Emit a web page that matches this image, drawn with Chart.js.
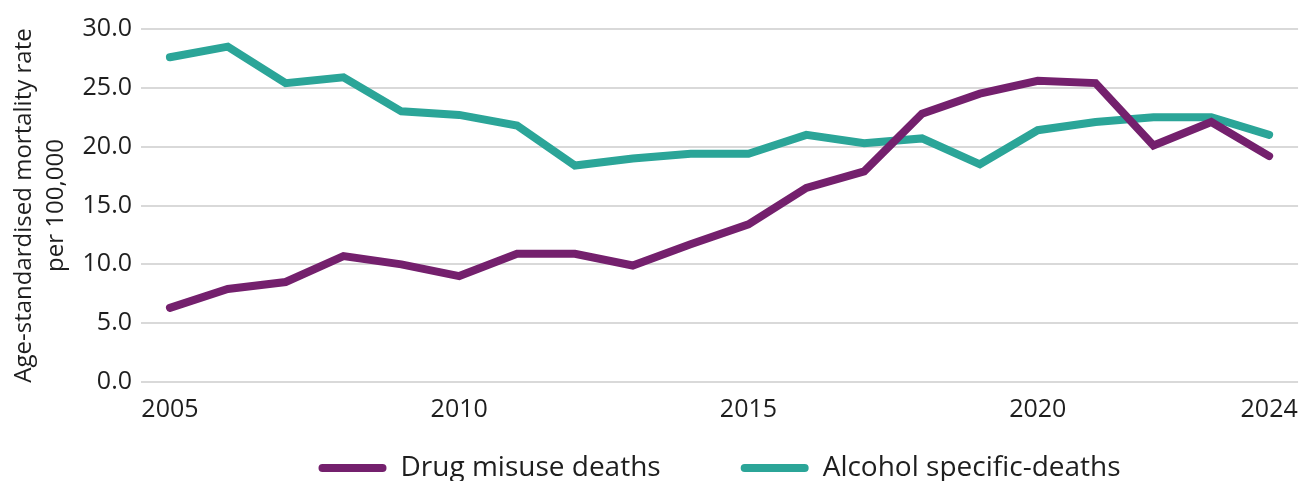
<!DOCTYPE html>
<html>
<head>
<meta charset="utf-8">
<script src="https://cdn.jsdelivr.net/npm/chart.js@4.4.1/dist/chart.umd.min.js"></script>
<style>
  html, body { margin: 0; padding: 0; background: #ffffff; }
  #wrap { width: 1311px; height: 481px; }
</style>
</head>
<body>
<div id="wrap"><canvas id="c" width="1311" height="481"></canvas></div>
<script>
const years = ['2005','2006','2007','2008','2009','2010','2011','2012','2013','2014',
               '2015','2016','2017','2018','2019','2020','2021','2022','2023','2024'];
const shownYears = ['2005','2010','2015','2020','2024'];
const drugDeaths = [6.3, 7.9, 8.5, 10.7, 10.0, 9.0, 10.9, 10.9, 9.9, 11.7,
                    13.4, 16.5, 17.9, 22.8, 24.5, 25.6, 25.4, 20.1, 22.1, 19.2];
const alcoholDeaths = [27.6, 28.5, 25.4, 25.9, 23.0, 22.7, 21.8, 18.4, 19.0, 19.4,
                       19.4, 21.0, 20.3, 20.7, 18.5, 21.4, 22.1, 22.5, 22.5, 21.0];
const seriesNames = ['Drug misuse deaths', 'Alcohol specific-deaths'];
const yTicks = [0, 5, 10, 15, 20, 25, 30];
const yTitle = ['Age-standardised mortality rate', 'per 100,000'];

const FONT = "'Open Sans', 'DejaVu Sans', sans-serif";
const TEXT = '#1e1e1e';
const COLORS = ['#74206d', '#2ba598'];

const customLegend = {
  id: 'customLegend',
  afterDraw(chart) {
    const ctx = chart.ctx;
    const area = chart.chartArea;
    ctx.save();
    ctx.font = "28px " + FONT;
    const boxW = 60, capPad = 4, gapText = 14, gapItem = 80;
    const widths = chart.data.datasets.map(d => ctx.measureText(d.label).width);
    let total = 0;
    widths.forEach((w, i) => { total += capPad * 2 + boxW + gapText + w + (i < widths.length - 1 ? gapItem : 0); });
    let x = (area.left + area.right) / 2 - total / 2;
    const y = 468;
    chart.data.datasets.forEach((d, i) => {
      ctx.strokeStyle = d.borderColor;
      ctx.lineWidth = 8;
      ctx.lineCap = 'round';
      ctx.beginPath();
      ctx.moveTo(x + capPad, y);
      ctx.lineTo(x + capPad + boxW, y);
      ctx.stroke();
      x += capPad * 2 + boxW + gapText;
      ctx.fillStyle = TEXT;
      ctx.textBaseline = 'middle';
      ctx.textAlign = 'left';
      ctx.fillText(d.label, x, y);
      x += widths[i] + gapItem;
    });
    ctx.restore();
  }
};

new Chart(document.getElementById('c'), {
  type: 'line',
  data: {
    labels: years,
    datasets: [
      { label: seriesNames[0], data: drugDeaths, borderColor: COLORS[0], backgroundColor: COLORS[0],
        borderWidth: 8, pointRadius: 0, pointHoverRadius: 0, tension: 0, borderCapStyle: 'round', borderJoinStyle: 'miter' },
      { label: seriesNames[1], data: alcoholDeaths, borderColor: COLORS[1], backgroundColor: COLORS[1],
        borderWidth: 8, pointRadius: 0, pointHoverRadius: 0, tension: 0, borderCapStyle: 'round', borderJoinStyle: 'miter' }
    ]
  },
  options: {
    responsive: false,
    animation: false,
    devicePixelRatio: 1,
    layout: { padding: { top: 29, right: 11, bottom: 50, left: 0 } },
    plugins: { legend: { display: false }, tooltip: { enabled: false } },
    scales: {
      x: {
        type: 'category',
        offset: true,
        grid: { display: false, drawTicks: false },
        border: { display: false },
        ticks: {
          autoSkip: false, maxRotation: 0, minRotation: 0, padding: 13,
          color: TEXT, font: { family: FONT, size: 25 },
          callback: function (val) {
            const lab = this.getLabelForValue(val);
            return shownYears.includes(lab) ? lab : '';
          }
        },
        afterFit(scale) { scale.height = 49; }
      },
      y: {
        min: yTicks[0], max: yTicks[yTicks.length - 1],
        grid: { color: '#d9d9d9', lineWidth: 2, drawTicks: false },
        border: { display: false },
        afterBuildTicks(scale) { scale.ticks = yTicks.map(v => ({ value: v })); },
        ticks: {
          padding: 9, color: TEXT, font: { family: FONT, size: 25 },
          callback: v => Number(v).toFixed(1)
        },
        title: {
          display: true, text: yTitle, color: TEXT,
          font: { family: FONT, size: 24, lineHeight: 1.3 },
          padding: { top: 9, bottom: 0 }
        },
        afterFit(scale) { scale.width = 141; }
      }
    }
  },
  plugins: [customLegend]
});
</script>
</body>
</html>
